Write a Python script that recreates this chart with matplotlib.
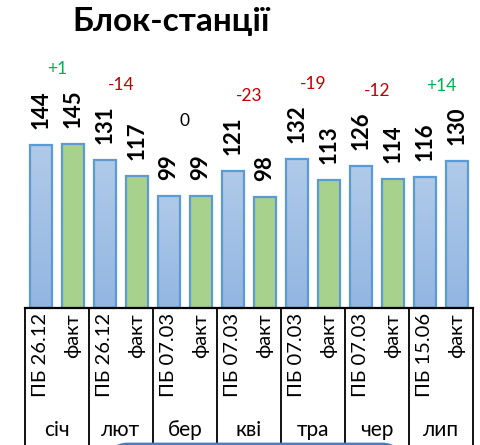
import matplotlib
matplotlib.use('Agg')
import matplotlib.pyplot as plt
import numpy as np
from matplotlib.patches import FancyBboxPatch

# data
months = ['січ', 'лют', 'бер', 'кві', 'тра', 'чер', 'лип']
plan_labels = ['ПБ 26.12', 'ПБ 26.12', 'ПБ 07.03', 'ПБ 07.03', 'ПБ 07.03', 'ПБ 07.03', 'ПБ 15.06']
fact_label = 'факт'
plan_values = [144, 131, 99, 121, 132, 126, 116]
fact_values = [145, 117, 99, 98, 113, 114, 130]
fact_done = [True, True, True, True, True, True, False]

BLUE_TOP = '#b0cae9'
BLUE_BOTTOM = '#92b6e2'
GREEN = '#a9d18e'
EDGE = '#5b9bd5'
RED = '#c00000'
DIFF_GREEN = '#00b050'

plt.rcParams['font.family'] = ['Lato', 'DejaVu Sans']

W, H = 481, 445
fig = plt.figure(figsize=(W / 100, H / 100), dpi=100)

x_left, x_right, base_y = 25, 473, 308
px_per_unit = 1.13
y_top = 240
ax = fig.add_axes([x_left / W, 1 - base_y / H, (x_right - x_left) / W, y_top * px_per_unit / H])
ax_lab = fig.add_axes([x_left / W, 0, (x_right - x_left) / W, (H - base_y) / H])

n = len(months)
slots = np.arange(2 * n)
values = [v for pair in zip(plan_values, fact_values) for v in pair]
is_green = [k for done in fact_done for k in (False, done)]
width = 0.69

grad = np.linspace(0, 1, 256).reshape(-1, 1)
blue_cmap = matplotlib.colors.LinearSegmentedColormap.from_list('bl', [BLUE_BOTTOM, BLUE_TOP])

for x, v, green in zip(slots, values, is_green):
    bar = ax.bar(x, v, width=width, color=GREEN if green else 'none',
                 edgecolor=EDGE, linewidth=1.6, zorder=3)[0]
    if not green:
        im = ax.imshow(grad, cmap=blue_cmap, origin='lower', aspect='auto',
                       extent=(x - width / 2, x + width / 2, 0, v), zorder=2)
        im.set_clip_path(bar)
    ax.annotate(str(v), (x, v), xytext=(0, 11.5), textcoords='offset points',
                rotation=90, ha='center', va='bottom', fontsize=16, fontweight='bold')

# difference between fact and plan above each month
for i in range(n):
    d = fact_values[i] - plan_values[i]
    txt = f'+{d}' if d > 0 else str(d)
    col = DIFF_GREEN if d > 0 else RED if d < 0 else 'black'
    ax.annotate(txt, (2 * i + 0.5, max(plan_values[i], fact_values[i])), xytext=(0, 54),
                textcoords='offset points', ha='center', va='center', fontsize=12.5, color=col)

ax.set_xlim(-0.5, 2 * n - 0.5)
ax.set_ylim(0, y_top)
ax.axis('off')
ax.axhline(0, color='black', linewidth=1.6, zorder=4, clip_on=False)

# two-level category axis
ax_lab.set_xlim(-0.5, 2 * n - 0.5)
ax_lab.set_ylim(H - base_y, 0)
ax_lab.axis('off')
for b in np.arange(-0.5, 2 * n, 2):
    ax_lab.plot([b, b], [0, H - base_y], color='black', linewidth=1.3, clip_on=False)
for i in range(n):
    ax_lab.text(2 * i, 5, plan_labels[i], rotation=90, ha='center', va='top', fontsize=14.5)
    ax_lab.text(2 * i + 1, 5, fact_label, rotation=90, ha='center', va='top', fontsize=14.5)
    ax_lab.text(2 * i + 0.5, 430 - base_y, months[i], ha='center', va='center', fontsize=15)

fig.text(171 / W, 1 - 21 / H, 'Блок-станції', ha='center', va='center',
         fontsize=24, fontweight='bold')

# partly visible rounded box at the bottom edge (inches)
box = FancyBboxPatch((1.10, -0.36), 2.90, 0.37,
                     boxstyle='round,pad=0,rounding_size=0.18', transform=fig.dpi_scale_trans,
                     facecolor='#dbe6f4', edgecolor='#4a7ebb', linewidth=2, zorder=10)
fig.patches.append(box)

fig.savefig('out.png', dpi=100)
